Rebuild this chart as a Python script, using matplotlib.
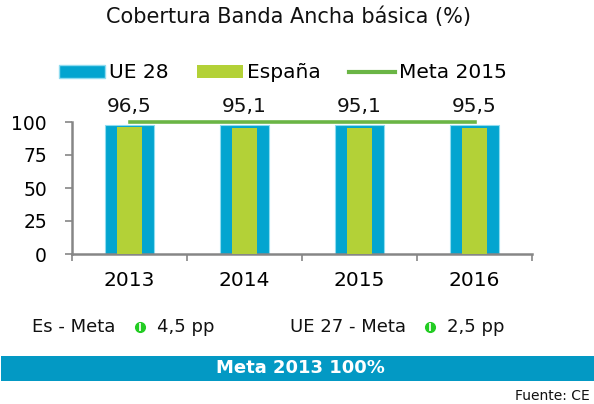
import matplotlib
matplotlib.use("Agg")
import matplotlib.pyplot as plt
import numpy as np
from matplotlib.patches import Patch, Rectangle
from matplotlib.lines import Line2D

# data
years = ["2013", "2014", "2015", "2016"]
ue28 = [97.6, 97.6, 97.6, 97.6]
espana = [96.5, 95.1, 95.1, 95.5]
espana_labels = ["96,5", "95,1", "95,1", "95,5"]
meta_2015 = [100, 100, 100, 100]
gap_labels = [("Es - Meta", "4,5 pp"), ("UE 27 - Meta", "2,5 pp")]

blue = "#03a5d0"
green = "#b3d137"
line_green = "#6ab545"
grey = "#868686"

plt.rcParams["font.family"] = ["DejaVu Sans"]

fig = plt.figure(figsize=(5.94, 4.04), dpi=100)
ax = fig.add_axes([72 / 594, 150 / 404, 460 / 594, 132 / 404])

x = np.arange(len(years))
ax.bar(x, ue28, width=0.42, color=blue, edgecolor="#8fdcf0", linewidth=0.8, zorder=2)
ax.bar(x, espana, width=0.21, color=green, zorder=3)
ax.plot(x, meta_2015, color=line_green, lw=2.6, zorder=4, clip_on=False)

for xi, lab in zip(x, espana_labels):
    ax.text(xi, 112, lab, ha="center", va="center", fontsize=14.5, color="#111111")

ax.set_xlim(-0.5, 3.5)
ax.set_ylim(0, 100)
ax.set_yticks([0, 25, 50, 75, 100])
ax.tick_params(axis="y", labelsize=13.5, length=5, color=grey, width=1.2, pad=13)
ax.set_xticks(x)
ax.set_xticklabels(years)
ax.tick_params(axis="x", which="major", length=0, labelsize=14.5, pad=12)
ax.set_xticks(np.arange(-0.5, 4, 1), minor=True)
ax.tick_params(axis="x", which="minor", length=5, color=grey, width=1.2, direction="out")
for s in ["top", "right"]:
    ax.spines[s].set_visible(False)
for s in ["left", "bottom"]:
    ax.spines[s].set_color(grey)
    ax.spines[s].set_linewidth(1.8)

fig.text(289 / 594, 1 - 17 / 404, "Cobertura Banda Ancha básica (%)", ha="center", va="center",
         fontsize=15, color="#111111")

handles = [Patch(facecolor=blue, edgecolor="#8fdcf0"),
           Patch(facecolor=green),
           Line2D([0], [0], color=line_green, lw=3)]
fig.legend(handles, ["UE 28", "España", "Meta 2015"], loc="center",
           bbox_to_anchor=(283 / 594, 1 - 73 / 404), ncol=3, frameon=False,
           fontsize=14.5, handlelength=2.3, handleheight=0.6, handletextpad=0.2,
           columnspacing=1.4)

# gap row
row_y = 1 - 327 / 404
positions = [(32, 140, 157), (290, 430, 447)]
for (lab, val), (xt, xs, xv) in zip(gap_labels, positions):
    fig.text(xt / 594, row_y, lab, ha="left", va="center", fontsize=13, color="#111111")
    fig.add_artist(Line2D([xs / 594], [row_y], marker="o", markersize=7, color="#22cc22",
                          transform=fig.transFigure, linestyle="none"))
    fig.add_artist(Line2D([xs / 594], [row_y], marker="|", markersize=6, color="white",
                          markeredgewidth=1.2, transform=fig.transFigure, linestyle="none"))
    fig.text(xv / 594, row_y, val, ha="left", va="center", fontsize=13, color="#111111")

fig.add_artist(Rectangle((1 / 594, 23 / 404), 593 / 594, 25 / 404, transform=fig.transFigure,
                         facecolor="#0399c4", edgecolor="none"))
fig.text(300 / 594, 1 - 368 / 404, "Meta 2013 100%", ha="center", va="center",
         fontsize=13, fontweight="bold", color="white")
fig.text(590 / 594, 1 - 396 / 404, "Fuente: CE", ha="right", va="center",
         fontsize=10, color="#111111")

fig.savefig("out.png", dpi=100)
